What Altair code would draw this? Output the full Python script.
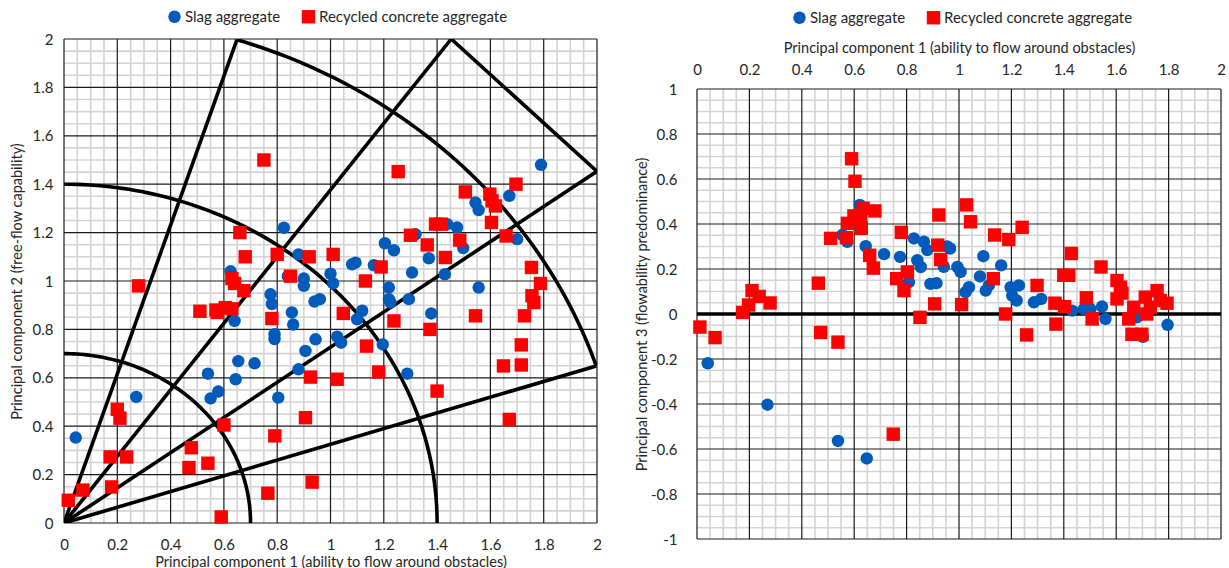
import altair as alt
import numpy as np
import pandas as pd

FONT = "Lato"
TEXT = "#262626"
SERIES = ["Slag aggregate", "Recycled concrete aggregate"]
SERIES_COLORS = ["#005BBB", "#FF0000"]
SERIES_SHAPES = ["circle", "square"]
SERIES_SIZES = [155, 180]

# ---- PC1 vs PC2 -----------------------------------------------------------
slag_pc1_a = [0.825, 0.88, 0.625, 0.84, 0.90, 0.90, 1.00, 1.01, 0.94, 0.96,
              0.775, 0.78, 0.64, 0.855, 0.86, 0.79, 0.79, 0.944, 0.906, 1.025,
              1.04, 0.88, 0.654, 0.715, 0.54, 0.644, 0.579, 0.55, 0.804, 0.271,
              0.044, 1.79, 1.671, 1.544, 1.556, 1.70, 1.438, 1.475, 1.498, 1.319,
              1.204, 1.238, 1.369, 1.081, 1.094, 1.163, 1.306, 1.429, 1.556, 1.219,
              1.219, 1.225, 1.294, 1.119, 1.10, 1.378, 1.196, 1.288]
slag_pc2 = [1.22, 1.11, 1.04, 1.02, 1.01, 0.98, 1.03, 0.99, 0.915, 0.925,
            0.945, 0.905, 0.835, 0.87, 0.82, 0.78, 0.76, 0.759, 0.711, 0.77,
            0.745, 0.635, 0.669, 0.66, 0.617, 0.594, 0.543, 0.515, 0.518, 0.521,
            0.353, 1.48, 1.352, 1.324, 1.293, 1.173, 1.235, 1.221, 1.136, 1.193,
            1.156, 1.127, 1.094, 1.069, 1.076, 1.065, 1.035, 1.028, 0.973, 0.973,
            0.925, 0.911, 0.925, 0.877, 0.842, 0.866, 0.738, 0.617]
rca_pc1_a = [0.75, 0.66, 0.68, 0.80, 0.92, 1.01, 0.63, 0.64, 0.675, 0.85,
             0.28, 0.51, 0.57, 0.605, 0.63, 0.575, 0.78, 0.925, 1.025, 0.20,
             0.21, 0.478, 0.60, 0.906, 0.791, 0.173, 0.235, 0.469, 0.54, 0.179,
             0.071, 0.016, 0.931, 0.765, 0.59, 1.254, 1.696, 1.506, 1.598, 1.606,
             1.619, 1.604, 1.659, 1.394, 1.416, 1.485, 1.30, 1.363, 1.431, 1.19,
             1.131, 1.754, 1.788, 1.756, 1.763, 1.728, 1.544, 1.048, 1.238, 1.373,
             1.135, 1.181, 1.40, 1.716, 1.649, 1.716, 1.671]
rca_pc2 = [1.50, 1.20, 1.10, 1.11, 1.10, 1.11, 1.01, 0.99, 0.96, 1.02,
           0.98, 0.875, 0.88, 0.89, 0.885, 0.87, 0.845, 0.603, 0.594, 0.47,
           0.433, 0.311, 0.405, 0.435, 0.36, 0.273, 0.273, 0.229, 0.247, 0.149,
           0.136, 0.094, 0.169, 0.123, 0.025, 1.452, 1.40, 1.368, 1.359, 1.331,
           1.31, 1.242, 1.186, 1.235, 1.235, 1.169, 1.189, 1.149, 1.097, 1.058,
           1.0, 1.056, 0.99, 0.939, 0.911, 0.856, 0.856, 0.866, 0.835, 0.80,
           0.731, 0.624, 0.545, 0.736, 0.649, 0.653, 0.428]

# ---- PC1 vs PC3 -----------------------------------------------------------
slag_pc1_b = [0.621, 0.555, 0.574, 0.644, 0.714, 0.775, 0.809, 0.828, 0.866, 0.879,
              0.841, 0.854, 0.891, 0.914, 0.955, 0.942, 0.041, 0.269, 0.538, 0.648,
              0.966, 1.093, 1.161, 0.994, 1.006, 1.08, 1.038, 1.025, 1.102, 1.114,
              1.197, 1.229, 1.22, 1.203, 1.286, 1.314, 1.375, 1.432, 1.476, 1.502,
              1.546, 1.559, 1.702, 1.679, 1.796]
slag_pc3 = [0.485, 0.351, 0.321, 0.301, 0.266, 0.254, 0.142, 0.336, 0.321, 0.284,
            0.239, 0.209, 0.134, 0.137, 0.30, 0.21, -0.219, -0.403, -0.564, -0.642,
            0.291, 0.257, 0.216, 0.209, 0.187, 0.167, 0.119, 0.097, 0.104, 0.127,
            0.119, 0.127, 0.06, 0.082, 0.052, 0.067, 0.048, 0.015, 0.022, 0.022,
            0.033, -0.022, -0.101, -0.015, -0.048]
rca_pc1_b = [0.590, 0.603, 0.634, 0.679, 0.599, 0.574, 0.625, 0.627, 0.51, 0.570,
             0.78, 0.659, 0.673, 0.762, 0.803, 0.79, 0.923, 0.919, 0.93, 0.907,
             0.851, 0.21, 0.237, 0.279, 0.197, 0.174, 0.463, 0.011, 0.069, 0.472,
             0.538, 0.749, 1.029, 1.044, 1.136, 1.19, 1.241, 1.131, 1.01, 1.298,
             1.178, 1.429, 1.40, 1.419, 1.366, 1.403, 1.486, 1.542, 1.508, 1.37,
             1.258, 1.603, 1.616, 1.603, 1.622, 1.648, 1.667, 1.660, 1.698, 1.711,
             1.756, 1.73, 1.717, 1.768, 1.794]
rca_pc3 = [0.69, 0.59, 0.47, 0.458, 0.436, 0.403, 0.433, 0.381, 0.336, 0.339,
           0.363, 0.261, 0.204, 0.157, 0.187, 0.104, 0.44, 0.306, 0.242, 0.045,
           -0.015, 0.104, 0.078, 0.049, 0.04, 0.007, 0.137, -0.058, -0.105, -0.082,
           -0.125, -0.534, 0.485, 0.41, 0.351, 0.331, 0.385, 0.157, 0.042, 0.127,
           0.0, 0.269, 0.172, 0.172, 0.048, 0.033, 0.072, 0.209, -0.022, -0.045,
           -0.093, 0.149, 0.119, 0.067, 0.093, -0.022, 0.03, -0.09, -0.09, 0.075,
           0.104, 0.03, 0.0, 0.06, 0.048]

# ---- axes, grid and sector layout -----------------------------------------
PC_TICKS = [0, 0.2, 0.4, 0.6, 0.8, 1.0, 1.2, 1.4, 1.6, 1.8, 2.0]
PC3_TICKS = [-1.0, -0.8, -0.6, -0.4, -0.2, 0, 0.2, 0.4, 0.6, 0.8, 1.0]
MINOR_STEP = 0.05
RING_RADII = [0.7, 1.4]
OUTER_RADIUS = 2.1
SECTOR_ANGLES = [18, 36, 54, 72]

LABEL_EXPR = "replace(format(datum.value, '.1~f'), '\u2212', '-')"
TITLE_PC1 = "Principal component 1 (ability to flow around obstacles)"
TITLE_PC2 = "Principal component 2 (free-flow capability)"
TITLE_PC3 = "Principal component 3 (flowability predominance)"


def steps(lo, hi, step):
    n = int(round((hi - lo) / step))
    return [round(lo + i * step, 4) for i in range(n + 1)]


def minor(lo, hi, majors):
    return [v for v in steps(lo, hi, MINOR_STEP) if all(abs(v - m) > 1e-6 for m in majors)]


def axis(title, orient, values, **kw):
    return alt.Axis(title=title, orient=orient, values=values, labelExpr=LABEL_EXPR,
                    grid=False, ticks=False, domain=False, labelFlush=False,
                    labelOverlap=False, labelFont=FONT, labelFontSize=15,
                    labelColor=TEXT, titleFont=FONT, titleFontSize=14.5,
                    titleFontWeight="normal", titleColor=TEXT, **kw)


def legend(x, y):
    return alt.Legend(title=None, orient="none", direction="horizontal",
                      legendX=x, legendY=y, labelFont=FONT, labelFontSize=15,
                      labelColor=TEXT, labelLimit=400, symbolSize=120,
                      columnPadding=20, labelOffset=3)


def points_df(sx, sy, rx, ry):
    return pd.DataFrame({"x": sx + rx, "y": sy + ry,
                         "series": [SERIES[0]] * len(sx) + [SERIES[1]] * len(rx)})


def panel(xs, ys, xax, yax, xdom, ydom, xmajor, ymajor, extra, pts, leg):
    X = lambda f="x": alt.X(f"{f}:Q", scale=xs, axis=xax)
    Y = lambda f="y": alt.Y(f"{f}:Q", scale=ys, axis=yax)

    def vrules(vals, color, w):
        df = pd.DataFrame({"x": vals, "y": ydom[0], "y2": ydom[1]})
        return alt.Chart(df).mark_rule(color=color, strokeWidth=w).encode(
            x=X(), y=Y(), y2="y2:Q")

    def hrules(vals, color, w):
        df = pd.DataFrame({"y": vals, "x": xdom[0], "x2": xdom[1]})
        return alt.Chart(df).mark_rule(color=color, strokeWidth=w).encode(
            y=Y(), x=X(), x2="x2:Q")

    minor_c, major_c = "#D3D3D3", "#1A1A1A"
    layers = [
        vrules(minor(xdom[0], xdom[1], xmajor), minor_c, 1.6),
        hrules(minor(ydom[0], ydom[1], ymajor), minor_c, 1.6),
        vrules(xmajor, major_c, 1.2),
        hrules(ymajor, major_c, 1.2),
        extra(X, Y),
        alt.Chart(pts).mark_point(filled=True, opacity=1, strokeWidth=0).encode(
            x=X(), y=Y(),
            color=alt.Color("series:N", scale=alt.Scale(domain=SERIES, range=SERIES_COLORS),
                            legend=leg, sort=SERIES),
            shape=alt.Shape("series:N", scale=alt.Scale(domain=SERIES, range=SERIES_SHAPES),
                            legend=leg, sort=SERIES),
            size=alt.Size("series:N", scale=alt.Scale(domain=SERIES, range=SERIES_SIZES),
                          legend=None),
            order=alt.Order("ord:Q"),
        ).transform_calculate(ord=f"datum.series == '{SERIES[0]}' ? 0 : 1"),
    ]
    return alt.layer(*layers)


# sector diagram drawn over the PC1-PC2 plane
paths = []


def add_path(name, xy):
    for k, (px, py) in enumerate(xy):
        paths.append({"x": float(px), "y": float(py), "seg": name, "k": k})


for r in RING_RADII:
    a = np.radians(np.linspace(0, 90, 91))
    add_path(f"ring {r}", zip(r * np.cos(a), r * np.sin(a)))
a = np.radians(np.linspace(SECTOR_ANGLES[0], SECTOR_ANGLES[-1], 60))
add_path("outer", zip(OUTER_RADIUS * np.cos(a), OUTER_RADIUS * np.sin(a)))
for deg in SECTOR_ANGLES:
    t = np.radians(deg)
    if deg in (SECTOR_ANGLES[0], SECTOR_ANGLES[-1]):
        r = OUTER_RADIUS
    else:
        r = 2.0 / max(np.cos(t), np.sin(t))
    add_path(f"ray {deg}", [(0, 0), (r * np.cos(t), r * np.sin(t))])
cap = np.radians(SECTOR_ANGLES[1])
add_path("cap", [(2.0 * np.tan(cap), 2.0), (2.0, 2.0 * np.tan(cap))])
sector_df = pd.DataFrame(paths)


def sectors(X, Y):
    return alt.Chart(sector_df).mark_line(color="black", strokeWidth=3.6, clip=True).encode(
        x=X(), y=Y(), detail="seg:N", order="k:Q")


zero_df = pd.DataFrame({"y": [0.0], "x": [0.0], "x2": [2.0]})


def zero_line(X, Y):
    return alt.Chart(zero_df).mark_rule(color="black", strokeWidth=3.4).encode(
        y=Y(), x=X(), x2="x2:Q")


xs_a = alt.Scale(domain=[0, 2], nice=False, zero=False)
ys_a = alt.Scale(domain=[0, 2], nice=False, zero=False)
left = panel(
    xs_a, ys_a,
    axis(TITLE_PC1, "bottom", PC_TICKS, labelPadding=14, titlePadding=3),
    axis(TITLE_PC2, "left", PC_TICKS, labelPadding=11, titlePadding=8),
    (0, 2), (0, 2), PC_TICKS, PC_TICKS, sectors,
    points_df(slag_pc1_a, slag_pc2, rca_pc1_a, rca_pc2),
    legend(103, -30),
).properties(width=533, height=484)

PLOT_B_TOP = 50
xs_b = alt.Scale(domain=[0, 2], nice=False, zero=False)
ys_b = alt.Scale(domain=[-1, 1], nice=False, zero=False, range=[500, PLOT_B_TOP])
right = panel(
    xs_b, ys_b,
    axis(TITLE_PC1, "top", PC_TICKS, labelPadding=12, titlePadding=7, offset=-PLOT_B_TOP),
    axis(TITLE_PC3, "left", PC3_TICKS, labelPadding=20, titlePadding=1),
    (0, 2), (-1, 1), PC_TICKS, PC3_TICKS, zero_line,
    points_df(slag_pc1_b, slag_pc3, rca_pc1_b, rca_pc3),
    legend(95, -29),
).properties(width=524, height=500)

chart = alt.hconcat(left, right, spacing=31).resolve_scale(
    color="independent", shape="independent", size="independent"
).properties(
    padding={"left": 8, "top": 8, "right": 0, "bottom": 0},
    background="white",
).configure_view(stroke="transparent")

chart.save("out.html", embed_options={"renderer": "svg", "actions": False})
